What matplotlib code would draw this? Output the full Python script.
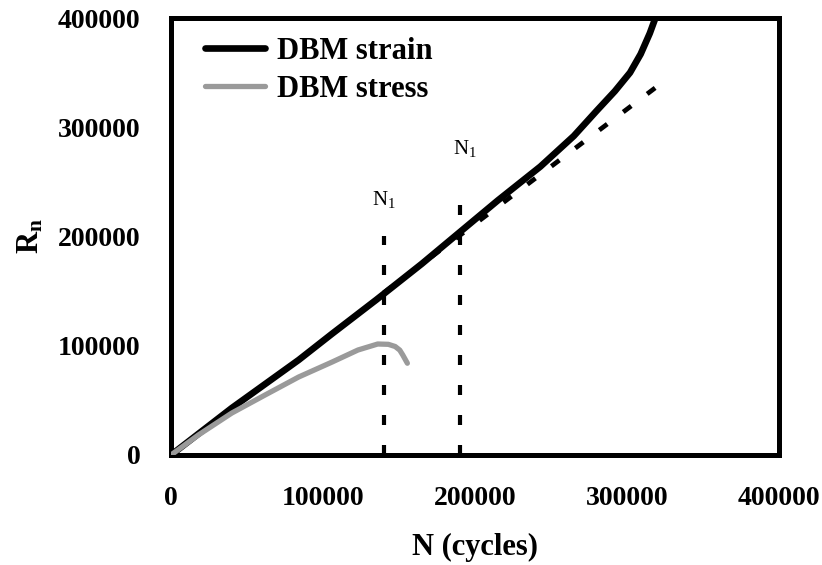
import matplotlib
matplotlib.use("Agg")
import matplotlib.pyplot as plt

plt.rcParams['font.family'] = ['Liberation Serif', 'DejaVu Serif']
plt.rcParams['mathtext.fontset'] = 'custom'
plt.rcParams['mathtext.rm'] = 'Liberation Serif'
plt.rcParams['mathtext.bf'] = 'Liberation Serif:bold'
plt.rcParams['mathtext.it'] = 'Liberation Serif:italic'
plt.rcParams['lines.scale_dashes'] = False

# Data
strain_N = [0, 40000, 84000, 106000, 135000, 165000, 190000, 215000, 243000,
            265000, 280000, 292000, 302000, 309000, 315000, 320000]
strain_R = [0, 43000, 87000, 111000, 142000, 175000, 204000, 233000, 264000,
            292000, 315000, 333000, 350000, 367000, 386000, 405000]

stress_N = [0, 18000, 40000, 62000, 84000, 106000, 123000, 136000, 143000,
            147500, 150500, 152500, 155500]
stress_R = [0, 18300, 38400, 55000, 71400, 85100, 96100, 101600, 101300,
            99300, 96000, 91500, 84000]

fit_N = [140000, 318500]
fit_R = [148500, 336000]

n1_N = [140000, 190000]
n1_top = [200000, 233000]
n1_label_xy = [(140000, 234000), (193500, 281000)]

xticks = [0, 100000, 200000, 300000, 400000]
yticks = [0, 100000, 200000, 300000, 400000]

fig = plt.figure(figsize=(8.22, 5.65), dpi=100)
ax = fig.add_axes([171/822, 1-455/565, 608/822, 437/565])

dash = (7.2, 14.4)
ax.plot(fit_N, fit_R, color='black', lw=3.4, linestyle=(0, dash), zorder=2)
for xv, top in zip(n1_N, n1_top):
    ax.plot([xv, xv], [0, top], color='black', lw=3.0, linestyle=(0, dash), zorder=2)

ax.plot(strain_N, strain_R, color='black', lw=4.8, label='DBM strain', zorder=3,
        solid_capstyle='round', solid_joinstyle='round')
ax.plot(stress_N, stress_R, color='#9a9a9a', lw=3.8, label='DBM stress', zorder=3,
        solid_capstyle='round', solid_joinstyle='round')

for (tx, ty) in n1_label_xy:
    ax.text(tx, ty, r'N$_{\mathrm{1}}$', fontsize=15, ha='center', va='center')

ax.set_xlim(0, 400000)
ax.set_ylim(0, 400000)
ax.set_xticks(xticks)
ax.set_yticks(yticks)
ax.set_xticklabels([str(v) for v in xticks], fontsize=20, fontweight='bold')
ax.set_yticklabels([str(v) for v in yticks], fontsize=20, fontweight='bold')
ax.tick_params(axis='x', length=0, pad=22)
ax.tick_params(axis='y', length=0, pad=22)

for sp in ax.spines.values():
    sp.set_linewidth(3.6)
    sp.set_color('black')

ax.set_xlabel('N (cycles)', fontsize=22, fontweight='bold', labelpad=16)
ax.set_ylabel(r'R$_{\mathbf{n}}$', fontsize=22, fontweight='bold', labelpad=9)

leg = ax.legend(loc='upper left', bbox_to_anchor=(0.056, 0.957), frameon=False,
                prop={'weight': 'bold', 'size': 22},
                handlelength=1.96, handletextpad=0.4, labelspacing=0.3,
                borderpad=0, borderaxespad=0)

fig.savefig('out.png', dpi=100)
